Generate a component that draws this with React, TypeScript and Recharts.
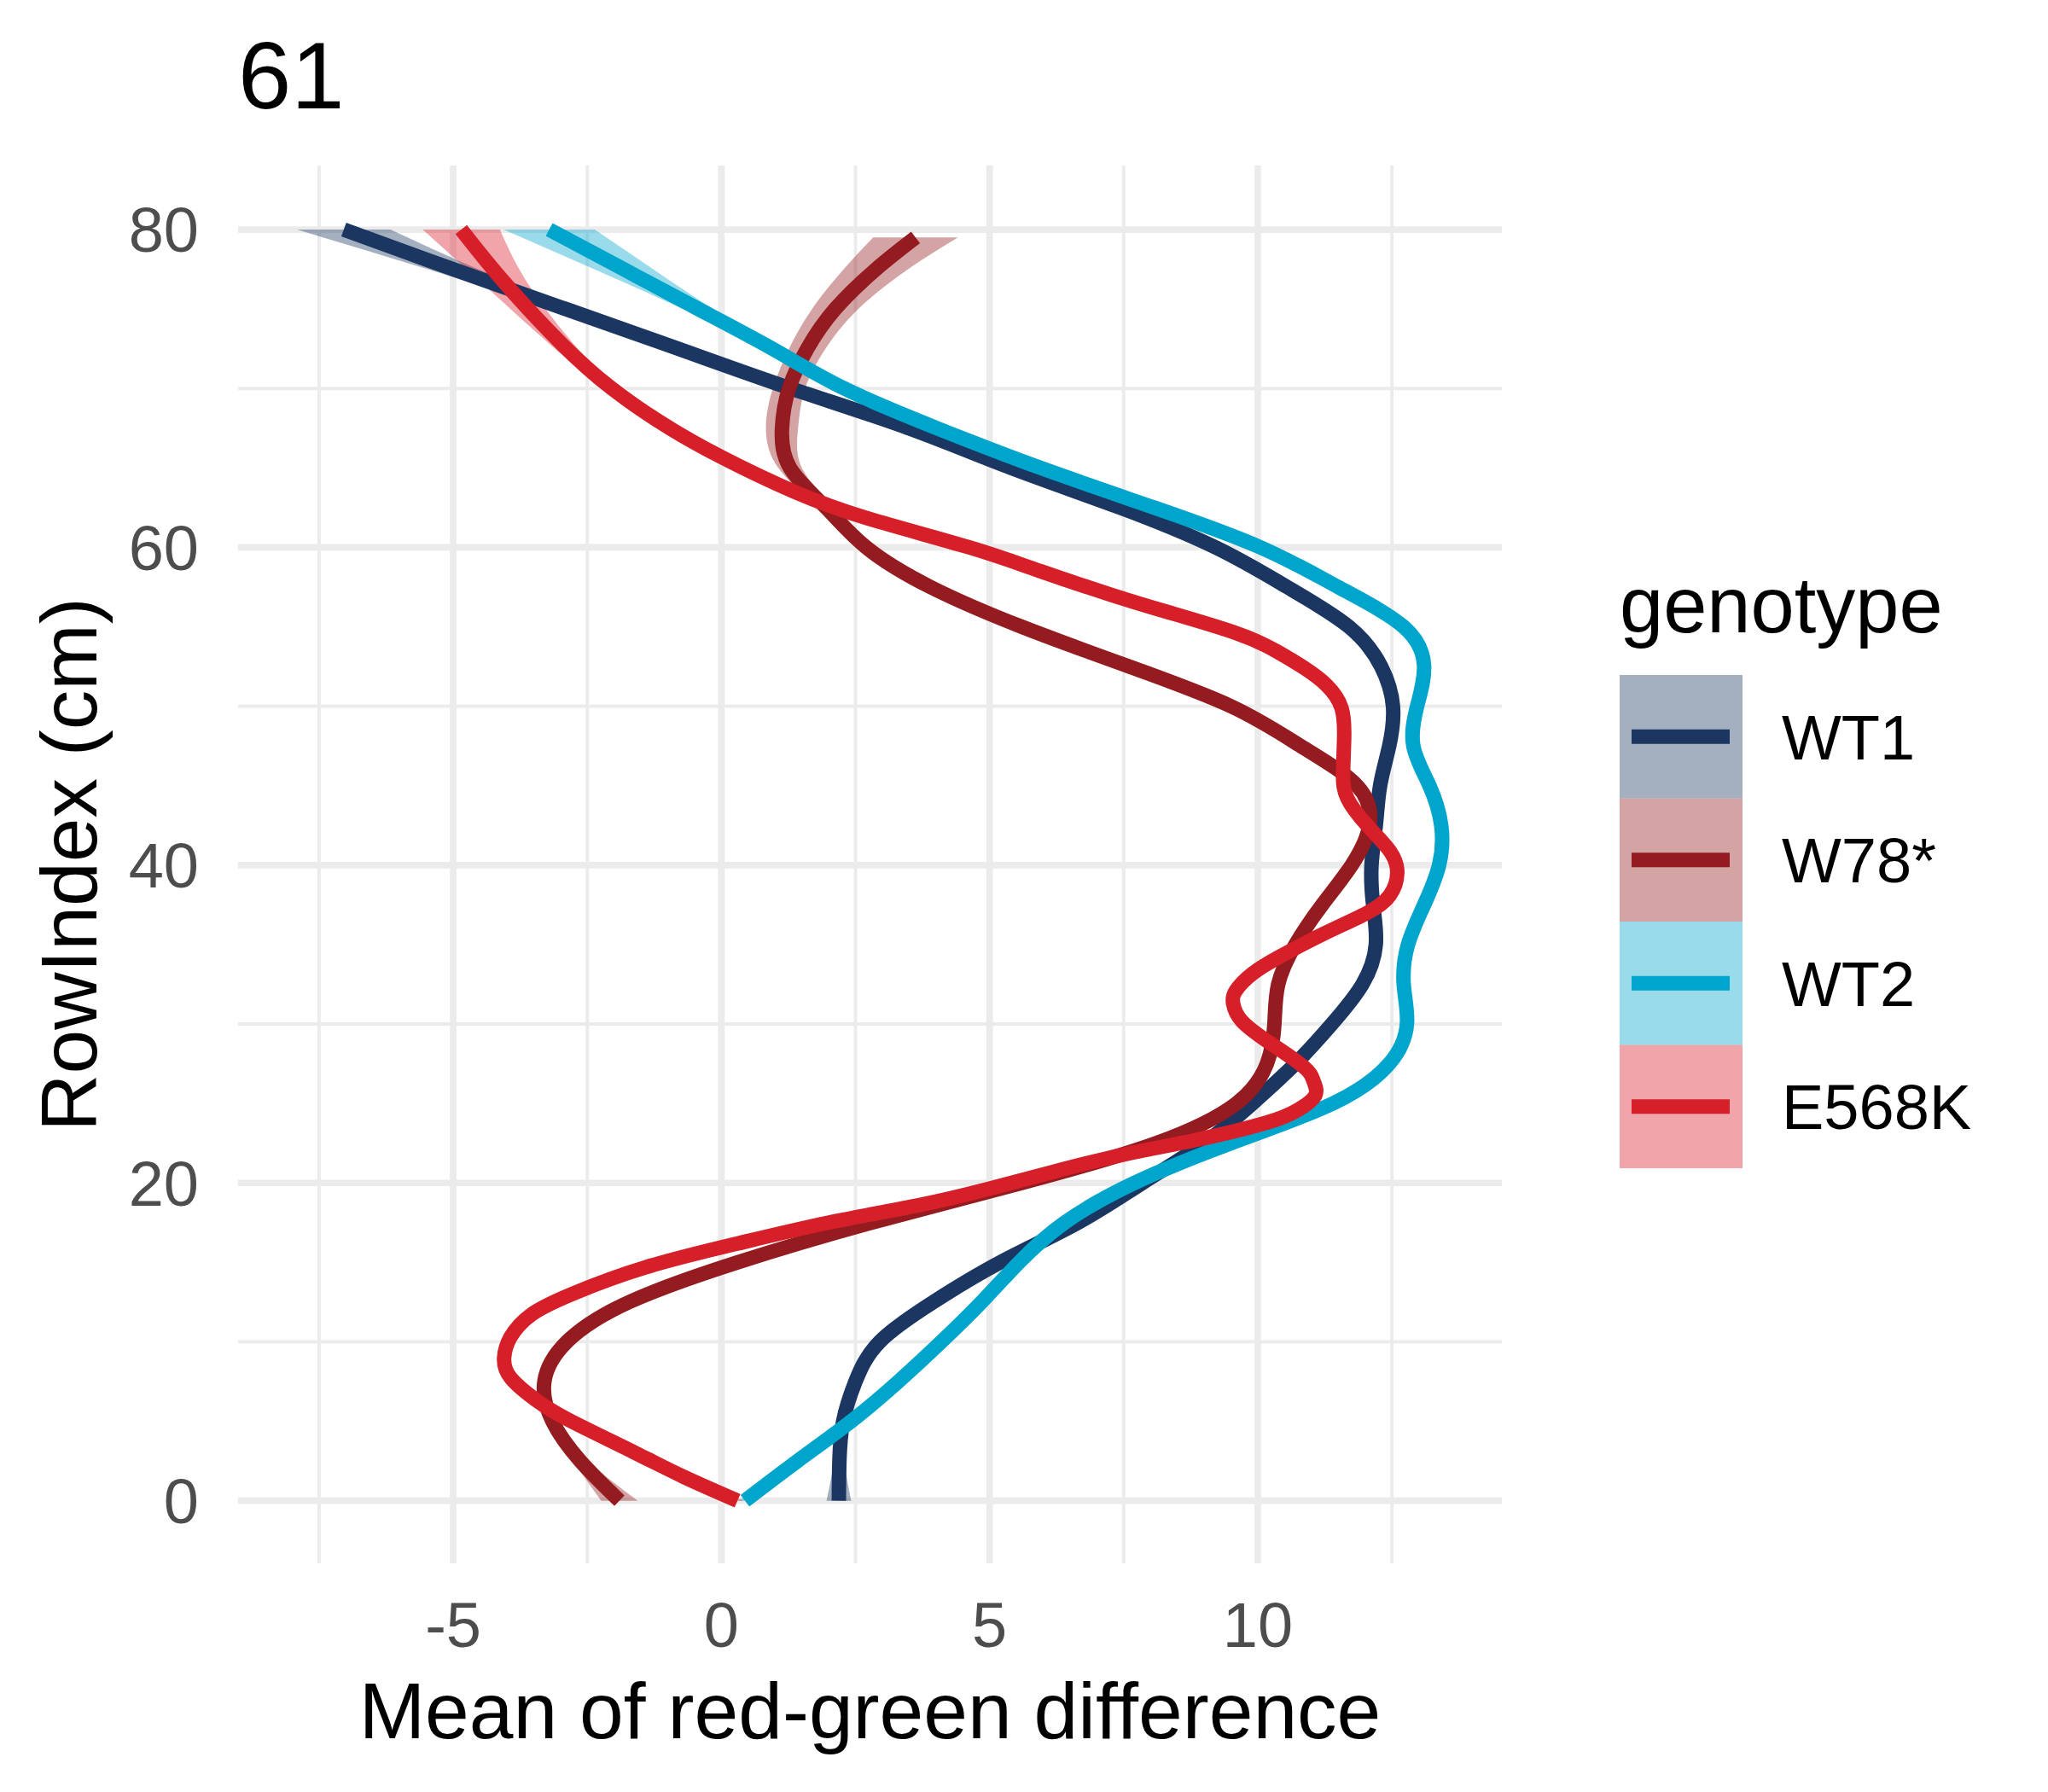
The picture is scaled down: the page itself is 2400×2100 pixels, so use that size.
import React from 'react';
import { ComposedChart, Line, Area, XAxis, YAxis, CartesianGrid, Legend } from 'recharts';

const FONT = '"Liberation Sans", Arial, Helvetica, sans-serif';

const TITLE = '61';
const X_LABEL = 'Mean of red-green difference';
const Y_LABEL = 'RowIndex (cm)';
const LEGEND_TITLE = 'genotype';

const GENOTYPES = ['WT1', 'W78*', 'WT2', 'E568K'];
const COLORS = ['#1B3661', '#941B1F', '#00A5CB', '#D61F28'];

const X_TICKS = [-5, 0, 5, 10];
const X_MINOR = [-7.5, -2.5, 2.5, 7.5, 12.5];
const Y_TICKS = [0, 20, 40, 60, 80];
const Y_MINOR = [10, 30, 50, 70];

const X_DOMAIN = [-9.01, 14.55];
const Y_DOMAIN = [-3.94, 84.03];

// WT1
const WT1_ROW = [0, 2.5, 5, 7.5, 10, 12.5, 15, 17.5, 20, 22.5, 25, 27.5, 30, 32.5, 35, 37.5, 40, 42.5, 45, 47.5, 50, 52.5, 55, 57.5, 60, 62.5, 65, 67.5, 70, 72.5, 75, 77.5, 80];
const WT1_MEAN = [2.19, 2.2, 2.27, 2.5, 2.95, 3.95, 5.2, 6.65, 7.85, 9.0, 9.9, 10.7, 11.38, 11.95, 12.2, 12.15, 12.12, 12.2, 12.28, 12.45, 12.52, 12.3, 11.7, 10.55, 9.21, 7.43, 5.4, 3.49, 1.3, -0.8, -2.9, -5.0, -7.04];
const WT1_SE = [0.23, 0.1, 0.07, 0.06, 0.06, 0.06, 0.06, 0.06, 0.06, 0.06, 0.06, 0.06, 0.06, 0.06, 0.06, 0.06, 0.06, 0.06, 0.06, 0.06, 0.06, 0.06, 0.06, 0.06, 0.06, 0.06, 0.06, 0.06, 0.08, 0.12, 0.22, 0.47, 0.87];

// W78*
const W78_ROW = [0, 2.5, 5, 7.5, 10, 12.5, 15, 17.5, 20, 22.5, 25, 27.5, 30, 32.5, 35, 37.5, 40, 42.5, 45, 47.5, 50, 52.5, 55, 57.5, 60, 62.5, 65, 67.5, 70, 72.5, 75, 77.5, 79.5];
const W78_MEAN = [-1.9, -2.63, -3.15, -3.3, -2.88, -1.72, 0.3, 2.8, 5.6, 8.1, 9.6, 10.17, 10.31, 10.38, 10.7, 11.2, 11.75, 12.08, 11.85, 10.8, 9.5, 7.6, 5.6, 3.9, 2.7, 1.95, 1.28, 1.13, 1.26, 1.6, 2.12, 2.88, 3.62];
const W78_SE = [0.34, 0.14, 0.07, 0.07, 0.07, 0.07, 0.07, 0.07, 0.07, 0.07, 0.07, 0.07, 0.07, 0.07, 0.07, 0.07, 0.07, 0.07, 0.07, 0.07, 0.07, 0.07, 0.07, 0.07, 0.09, 0.15, 0.22, 0.3, 0.3, 0.34, 0.43, 0.6, 0.79];

// WT2
const WT2_ROW = [0, 2.5, 5, 7.5, 10, 12.5, 15, 17.5, 20, 22.5, 25, 27.5, 30, 32.5, 35, 37.5, 40, 42.5, 45, 47.5, 50, 52.5, 55, 57.5, 60, 62.5, 65, 67.5, 70, 72.5, 75, 77.5, 80];
const WT2_MEAN = [0.44, 1.42, 2.42, 3.3, 4.1, 4.85, 5.55, 6.4, 7.7, 9.5, 11.4, 12.45, 12.78, 12.72, 12.8, 13.1, 13.38, 13.42, 13.2, 12.9, 12.97, 13.1, 12.72, 11.5, 10.05, 8.07, 5.95, 4.02, 2.29, 0.95, -0.43, -1.82, -3.21];
const WT2_SE = [0.12, 0.07, 0.06, 0.06, 0.06, 0.06, 0.06, 0.06, 0.06, 0.06, 0.06, 0.06, 0.06, 0.06, 0.06, 0.06, 0.06, 0.06, 0.06, 0.06, 0.06, 0.06, 0.06, 0.06, 0.06, 0.06, 0.06, 0.06, 0.08, 0.13, 0.28, 0.55, 0.85];

// E568K
const E568K_ROW = [0, 1.5, 3, 5, 6.2, 7.7, 9, 10.3, 11.7, 13, 14.7, 16.2, 17.5, 18.6, 19.6, 20.7, 21.8, 22.7, 23.8, 24.6, 25.5, 26.4, 27.3, 28.8, 30.2, 31.3, 32.1, 33.2, 34.3, 35.7, 37, 38.1, 39.5, 40.9, 42.5, 44.2, 45.8, 48, 49.9, 51.3, 52.4, 53.5, 54.6, 55.9, 57, 58.5, 60, 61.8, 63.5, 65.7, 68, 70.7, 73.6, 77, 80];
const E568K_MEAN = [0.3, -0.7, -1.6, -2.8, -3.4, -3.92, -4.05, -3.93, -3.55, -2.79, -1.4, 0.32, 2.0, 3.68, 4.95, 6.19, 7.52, 8.84, 10.17, 10.75, 11.07, 11.04, 10.86, 10.23, 9.7, 9.54, 9.59, 9.91, 10.44, 11.24, 12.04, 12.46, 12.6, 12.46, 12.04, 11.67, 11.59, 11.61, 11.56, 11.29, 10.87, 10.33, 9.6, 8.35, 7.28, 5.95, 4.62, 2.75, 1.36, -0.01, -1.2, -2.3, -3.21, -4.13, -4.85];
const E568K_SE = [0.12, 0.08, 0.07, 0.07, 0.07, 0.07, 0.07, 0.07, 0.07, 0.07, 0.07, 0.07, 0.07, 0.07, 0.07, 0.07, 0.07, 0.07, 0.07, 0.07, 0.07, 0.07, 0.07, 0.07, 0.07, 0.07, 0.07, 0.07, 0.07, 0.07, 0.07, 0.07, 0.07, 0.07, 0.07, 0.07, 0.07, 0.07, 0.07, 0.07, 0.07, 0.07, 0.07, 0.07, 0.07, 0.07, 0.07, 0.07, 0.08, 0.1, 0.12, 0.16, 0.26, 0.45, 0.72];

type Pt = { y: number; x: number; band: [number, number] };

function build(rows: number[], means: number[], ses: number[]): Pt[] {
  return rows.map((y, i) => ({ y, x: means[i], band: [means[i] - ses[i], means[i] + ses[i]] }));
}

const SERIES = [
  build(WT1_ROW, WT1_MEAN, WT1_SE),
  build(W78_ROW, W78_MEAN, W78_SE),
  build(WT2_ROW, WT2_MEAN, WT2_SE),
  build(E568K_ROW, E568K_MEAN, E568K_SE),
];

const GRID = '#EBEBEB';

function renderLegend() {
  const keyH = 144.5;
  return (
    <svg width={480} height={760} style={{ display: 'block', overflow: 'visible' }}>
      <text x={0} y={81} fontSize={92} fontFamily={FONT} fill="#000">{LEGEND_TITLE}</text>
      {GENOTYPES.map((g, i) => {
        const top = 131 + i * keyH;
        const cy = top + keyH / 2;
        return (
          <g key={g}>
            <rect x={0} y={top} width={144} height={keyH} fill={COLORS[i]} fillOpacity={0.4} />
            <line x1={14} x2={129} y1={cy} y2={cy} stroke={COLORS[i]} strokeWidth={17} />
            <text x={190} y={cy + 26.5} fontSize={74} fontFamily={FONT} fill="#000">{g}</text>
          </g>
        );
      })}
    </svg>
  );
}

function XTitle(props: any) {
  const vb = props.viewBox || { x: 279, y: 1832, width: 1481, height: 268 };
  return (
    <text x={vb.x + vb.width / 2} y={vb.y + 205} textAnchor="middle" fontSize={93} fontFamily={FONT} fill="#000">
      {X_LABEL}
    </text>
  );
}

function YTitle(props: any) {
  const vb = props.viewBox || { x: 0, y: 194, width: 279, height: 1638 };
  const cx = vb.x + 113;
  const cy = vb.y + vb.height / 2;
  return (
    <text x={cx} y={cy} transform={`rotate(-90 ${cx} ${cy})`} textAnchor="middle" fontSize={93} fontFamily={FONT} fill="#000">
      {Y_LABEL}
    </text>
  );
}

export default function App() {
  const tickStyle = { fill: '#4D4D4D', fontSize: 74, fontFamily: FONT };
  return (
    <div style={{ position: 'absolute', left: 0, top: 0, width: 2400, height: 2100, background: '#fff', fontFamily: FONT }}>
      <svg style={{ position: 'absolute', left: 0, top: 0 }} width={2400} height={190}>
        <text x={279} y={127} fontSize={112} fontFamily={FONT} fill="#000">{TITLE}</text>
      </svg>
      <div style={{ position: 'absolute', left: 0, top: 0 }}>
        <ComposedChart
          width={2400}
          height={2100}
          layout="vertical"
          margin={{ top: 194, right: 640, bottom: 0, left: 0 }}
        >
          <CartesianGrid stroke={GRID} strokeWidth={3.85} verticalValues={X_MINOR} horizontalValues={Y_MINOR} />
          <CartesianGrid stroke={GRID} strokeWidth={7.7} verticalValues={X_TICKS} horizontalValues={Y_TICKS} />
          <XAxis
            type="number"
            domain={X_DOMAIN}
            ticks={X_TICKS}
            allowDataOverflow
            interval={0}
            tickLine={false}
            axisLine={false}
            tickSize={0}
            tickMargin={45}
            height={268}
            tick={tickStyle}
            label={<XTitle />}
          />
          <YAxis
            type="number"
            dataKey="y"
            domain={Y_DOMAIN}
            ticks={Y_TICKS}
            reversed
            allowDataOverflow
            interval={0}
            tickLine={false}
            axisLine={false}
            tickSize={0}
            tickMargin={46}
            width={279}
            tick={tickStyle}
            label={<YTitle />}
          />
          {SERIES.map((d, i) => [
            <Area
              key={`a${i}`}
              data={d}
              dataKey="band"
              type="natural"
              fill={COLORS[i]}
              fillOpacity={0.4}
              stroke="none"
              isAnimationActive={false}
              legendType="none"
              activeDot={false}
            />,
            <Line
              key={`l${i}`}
              data={d}
              dataKey="x"
              type="natural"
              stroke={COLORS[i]}
              strokeWidth={17}
              dot={false}
              activeDot={false}
              isAnimationActive={false}
              legendType="none"
            />,
          ])}
          <Legend
            layout="vertical"
            align="center"
            verticalAlign="middle"
            wrapperStyle={{ left: 1898, top: 660, width: 480 }}
            content={renderLegend}
          />
        </ComposedChart>
      </div>
    </div>
  );
}
